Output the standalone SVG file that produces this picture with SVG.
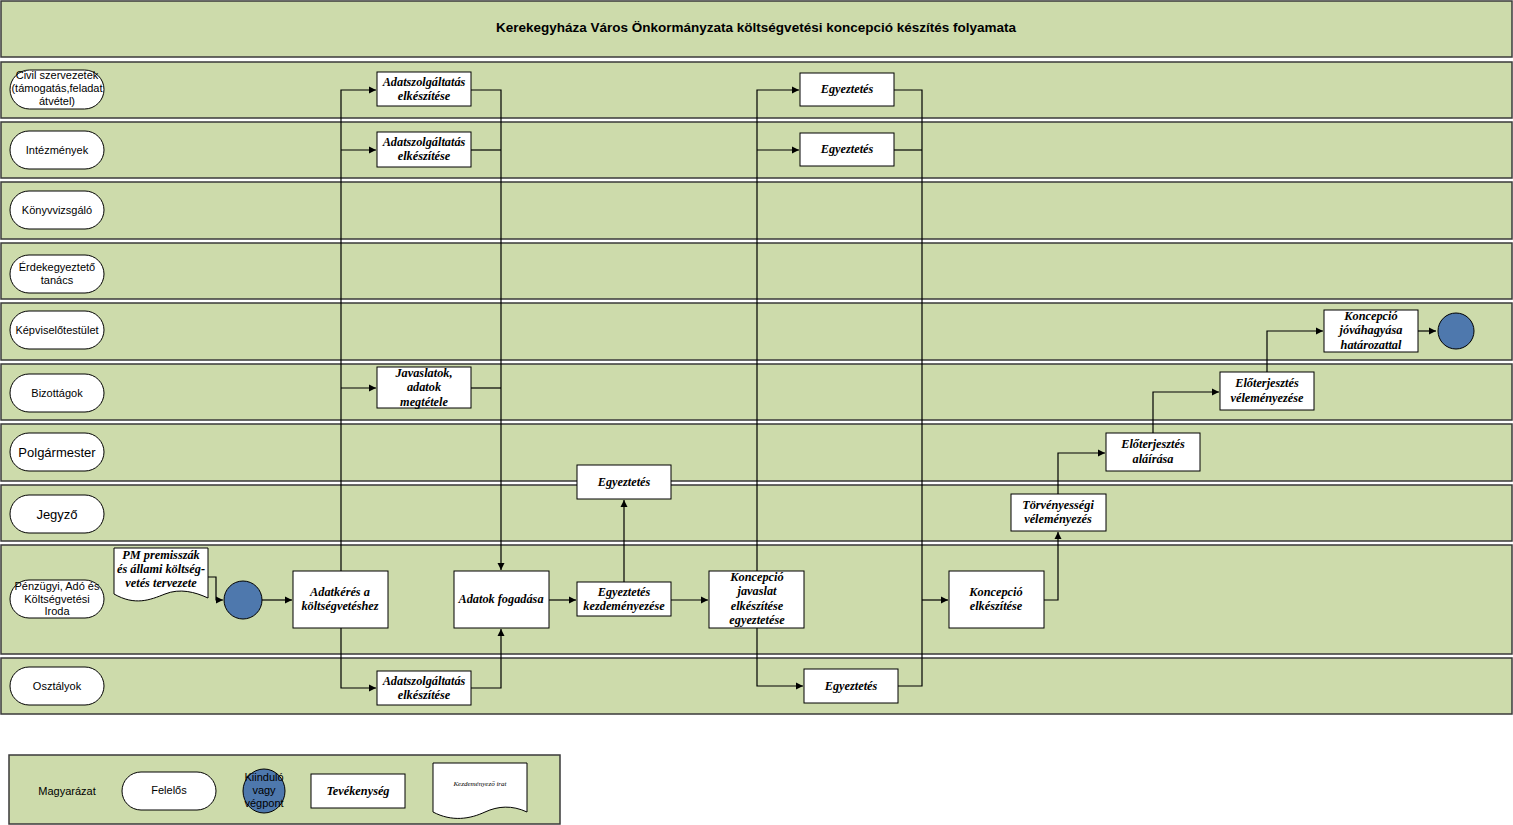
<svg xmlns="http://www.w3.org/2000/svg" width="1513" height="825" viewBox="0 0 1513 825">
<style>
.lane{fill:#cddbab;stroke:#3a3a3a;stroke-width:1.5}
.pill{fill:#fff;stroke:#000;stroke-width:1}
.lbl{font-family:"Liberation Sans",Arial,sans-serif;font-size:11px;fill:#000;text-anchor:middle}
.box{fill:#fff;stroke:#000;stroke-width:1}
.bt{font-family:"Liberation Serif","Times New Roman",serif;font-size:12.3px;font-style:italic;font-weight:bold;fill:#000;text-anchor:middle}
.circ{fill:#4e78ad;stroke:#000;stroke-width:1}
.cn{fill:none;stroke:#000;stroke-width:1.2}
</style>
<defs>
<marker id="ar" markerWidth="8" markerHeight="8" refX="7" refY="4" orient="auto" markerUnits="userSpaceOnUse">
<path d="M0,0.5 L7,4 L0,7.5 Z" fill="#000"/>
</marker>
</defs>
<rect width="1513" height="825" fill="#fff"/>
<g id="title">
<rect x="1" y="1" width="1511" height="56" class="lane"/>
<text x="756" y="32" font-family="Liberation Sans,Arial,sans-serif" font-size="13.5" font-weight="bold" text-anchor="middle">Kerekegyháza Város Önkormányzata költségvetési koncepció készítés folyamata</text>
</g>
<g id="lanes">
<rect x="1" y="62" width="1511" height="56" class="lane"/>
<rect x="1" y="122" width="1511" height="56" class="lane"/>
<rect x="1" y="182" width="1511" height="57" class="lane"/>
<rect x="1" y="243" width="1511" height="56" class="lane"/>
<rect x="1" y="303" width="1511" height="57" class="lane"/>
<rect x="1" y="364" width="1511" height="56" class="lane"/>
<rect x="1" y="424" width="1511" height="57" class="lane"/>
<rect x="1" y="485" width="1511" height="56" class="lane"/>
<rect x="1" y="545" width="1511" height="109" class="lane"/>
<rect x="1" y="658" width="1511" height="56" class="lane"/>
</g>
<g id="lane-labels">
<g id="l-civil"><rect x="10" y="70" width="94" height="39" rx="19.5" class="pill"/><text class="lbl" x="57" y="79">Civil szervezetek</text><text class="lbl" x="57" y="92">(támogatás,feladat</text><text class="lbl" x="57" y="105">átvétel)</text></g>
<g id="l-intez"><rect x="10" y="131" width="94" height="38" rx="19" class="pill"/><text class="lbl" x="57" y="154">Intézmények</text></g>
<g id="l-konyv"><rect x="10" y="191" width="94" height="38" rx="19" class="pill"/><text class="lbl" x="57" y="214">Könyvvizsgáló</text></g>
<g id="l-erdek"><rect x="10" y="255" width="94" height="38" rx="19" class="pill"/><text class="lbl" x="57" y="271">Érdekegyeztető</text><text class="lbl" x="57" y="284">tanács</text></g>
<g id="l-kepv"><rect x="10" y="311" width="94" height="38" rx="19" class="pill"/><text class="lbl" x="57" y="334">Képviselőtestület</text></g>
<g id="l-biz"><rect x="10" y="374" width="94" height="38" rx="19" class="pill"/><text class="lbl" x="57" y="397">Bizottágok</text></g>
<g id="l-polg"><rect x="10" y="433" width="94" height="38" rx="19" class="pill"/><text class="lbl" x="57" y="457" style="font-size:13px">Polgármester</text></g>
<g id="l-jegy"><rect x="10" y="495" width="94" height="38" rx="19" class="pill"/><text class="lbl" x="57" y="519" style="font-size:13px">Jegyző</text></g>
<g id="l-penz"><rect x="10" y="580" width="94" height="38" rx="19" class="pill"/><text class="lbl" x="57" y="590">Pénzügyi, Adó és</text><text class="lbl" x="57" y="603">Költségvetési</text><text class="lbl" x="57" y="615">Iroda</text></g>
<g id="l-oszt"><rect x="10" y="667" width="94" height="38" rx="19" class="pill"/><text class="lbl" x="57" y="690">Osztályok</text></g>
</g>
<g id="connectors">
<path class="cn" d="M208,577 H216 V600 H223" marker-end="url(#ar)"/>
<path class="cn" d="M262,600 H292" marker-end="url(#ar)"/>
<path class="cn" d="M341,571 V90 H376" marker-end="url(#ar)"/>
<path class="cn" d="M341,150 H376" marker-end="url(#ar)"/>
<path class="cn" d="M341,388 H376" marker-end="url(#ar)"/>
<path class="cn" d="M341,628 V688 H376" marker-end="url(#ar)"/>
<path class="cn" d="M471,90 H501 V570" marker-end="url(#ar)"/>
<path class="cn" d="M471,150 H501"/>
<path class="cn" d="M471,388 H501"/>
<path class="cn" d="M471,688 H501 V629" marker-end="url(#ar)"/>
<path class="cn" d="M549,600 H576" marker-end="url(#ar)"/>
<path class="cn" d="M624,582 V500" marker-end="url(#ar)"/>
<path class="cn" d="M671,600 H708" marker-end="url(#ar)"/>
<path class="cn" d="M757,571 V90 H799" marker-end="url(#ar)"/>
<path class="cn" d="M757,150 H799" marker-end="url(#ar)"/>
<path class="cn" d="M757,628 V686 H803" marker-end="url(#ar)"/>
<path class="cn" d="M894,90 H922 V686 H898"/>
<path class="cn" d="M894,150 H922"/>
<path class="cn" d="M922,600 H948" marker-end="url(#ar)"/>
<path class="cn" d="M1044,600 H1058 V532" marker-end="url(#ar)"/>
<path class="cn" d="M1058,494 V453 H1105" marker-end="url(#ar)"/>
<path class="cn" d="M1153,433 V392 H1219" marker-end="url(#ar)"/>
<path class="cn" d="M1267,372 V331 H1323" marker-end="url(#ar)"/>
<path class="cn" d="M1418,331 H1436" marker-end="url(#ar)"/>
</g>
<g id="n-pm"><path class="box" d="M114,548 H208 V598 C195,592 180,588 165,594 C150,600 135,606 114,594 Z"/><text class="bt" x="161" y="559">PM premisszák</text><text class="bt" x="161" y="573">és állami költség-</text><text class="bt" x="161" y="587">vetés tervezete</text></g>
<g id="n-start"><circle cx="243" cy="600" r="19" class="circ"/></g>
<g id="n-adatkeres"><rect x="293" y="571" width="95" height="57" class="box"/><text class="bt" x="340" y="596">Adatkérés a</text><text class="bt" x="340" y="610">költségvetéshez</text></g>
<g id="n-adat-civil"><rect x="377" y="72" width="94" height="34" class="box"/><text class="bt" x="424" y="86">Adatszolgáltatás</text><text class="bt" x="424" y="100">elkészítése</text></g>
<g id="n-adat-intez"><rect x="377" y="132" width="94" height="35" class="box"/><text class="bt" x="424" y="146">Adatszolgáltatás</text><text class="bt" x="424" y="160">elkészítése</text></g>
<g id="n-javaslatok"><rect x="377" y="367" width="94" height="41" class="box"/><text class="bt" x="424" y="377">Javaslatok,</text><text class="bt" x="424" y="391">adatok</text><text class="bt" x="424" y="406">megtétele</text></g>
<g id="n-adat-oszt"><rect x="377" y="671" width="94" height="34" class="box"/><text class="bt" x="424" y="685">Adatszolgáltatás</text><text class="bt" x="424" y="699">elkészítése</text></g>
<g id="n-fogadas"><rect x="454" y="571" width="95" height="57" class="box"/><text class="bt" x="501" y="603">Adatok fogadása</text></g>
<g id="n-egy-kezd"><rect x="577" y="582" width="94" height="34" class="box"/><text class="bt" x="624" y="596">Egyeztetés</text><text class="bt" x="624" y="610">kezdeményezése</text></g>
<g id="n-egy-jegy"><rect x="577" y="465" width="94" height="34" class="box"/><text class="bt" x="624" y="486">Egyeztetés</text></g>
<g id="n-konc-jav"><rect x="709" y="571" width="95" height="57" class="box"/><text class="bt" x="757" y="581">Koncepció</text><text class="bt" x="757" y="595">javaslat</text><text class="bt" x="757" y="610">elkészítése</text><text class="bt" x="757" y="624">egyeztetése</text></g>
<g id="n-egy-civil"><rect x="800" y="73" width="94" height="33" class="box"/><text class="bt" x="847" y="93">Egyeztetés</text></g>
<g id="n-egy-intez"><rect x="800" y="133" width="94" height="33" class="box"/><text class="bt" x="847" y="153">Egyeztetés</text></g>
<g id="n-egy-oszt"><rect x="804" y="669" width="94" height="34" class="box"/><text class="bt" x="851" y="690">Egyeztetés</text></g>
<g id="n-konc-elk"><rect x="949" y="571" width="95" height="57" class="box"/><text class="bt" x="996" y="596">Koncepció</text><text class="bt" x="996" y="610">elkészítése</text></g>
<g id="n-torv"><rect x="1011" y="494" width="95" height="37" class="box"/><text class="bt" x="1058" y="509">Törvényességi</text><text class="bt" x="1058" y="523">véleményezés</text></g>
<g id="n-alair"><rect x="1106" y="433" width="94" height="38" class="box"/><text class="bt" x="1153" y="448">Előterjesztés</text><text class="bt" x="1153" y="463">aláírása</text></g>
<g id="n-velem"><rect x="1220" y="372" width="94" height="38" class="box"/><text class="bt" x="1267" y="387">Előterjesztés</text><text class="bt" x="1267" y="402">véleményezése</text></g>
<g id="n-jovahagy"><rect x="1324" y="310" width="94" height="42" class="box"/><text class="bt" x="1371" y="320">Koncepció</text><text class="bt" x="1371" y="334">jóváhagyása</text><text class="bt" x="1371" y="349">határozattal</text></g>
<g id="n-end"><circle cx="1456" cy="331" r="18" class="circ"/></g>
<g id="legend">
<rect x="9" y="755" width="551" height="69" class="lane"/>
<text class="lbl" x="67" y="795">Magyarázat</text>
<rect x="122" y="772" width="94" height="38" rx="19" class="pill"/><text class="lbl" x="169" y="794">Felelős</text>
<ellipse cx="264" cy="791" rx="21" ry="22" class="circ"/><text class="lbl" x="264" y="781">Kiinduló</text><text class="lbl" x="264" y="794">vagy</text><text class="lbl" x="264" y="807">végpont</text>
<rect x="311" y="774" width="94" height="34" class="box"/><text class="bt" x="358" y="795">Tevékenység</text>
<path class="box" d="M433,763 H527 V812 C512,805 498,806 485,812 C470,819 452,822 433,812 Z"/><text class="bt" x="480" y="786" style="font-size:7px;font-weight:normal">Kezdeményező irat</text>
</g>
</svg>
